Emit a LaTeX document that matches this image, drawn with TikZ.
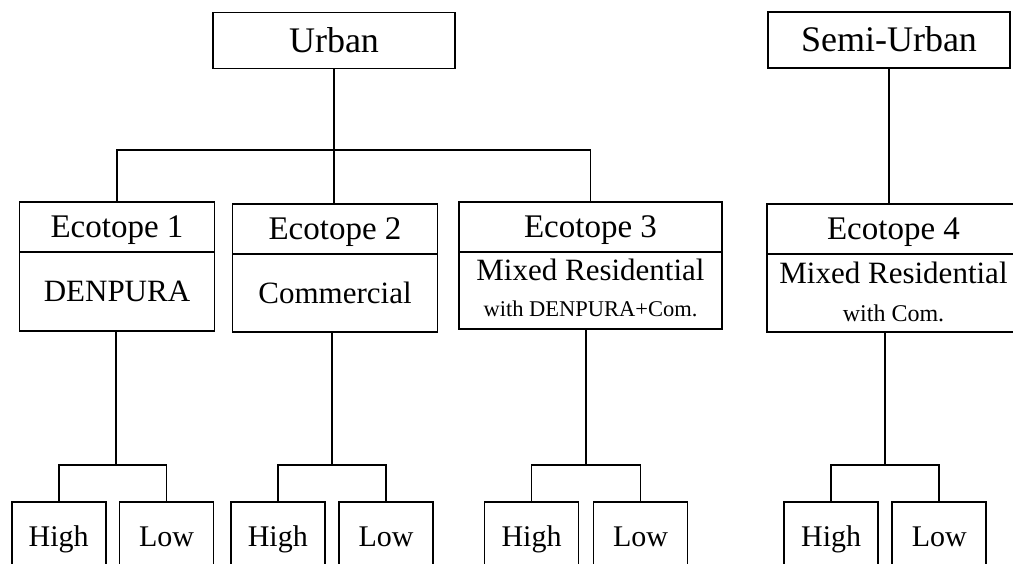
\documentclass[tikz,border=0pt]{standalone}
\usepackage{fontspec}
\setmainfont{Liberation Serif}
\usetikzlibrary{positioning}
\tikzset{box/.style = {draw, line width = 1.8pt, inner sep = 0pt, text depth = 0pt}}
\tikzset{area/.style = {box, minimum width = 242pt, minimum height = 56pt,
    font = \fontsize{36}{40}\selectfont, text height = 23pt}}
\tikzset{eco/.style = {box, minimum height = 50pt,
    font = \fontsize{33}{38}\selectfont, text height = 21.8pt}}
\tikzset{kind/.style = {box, font = \fontsize{31}{36}\selectfont, text height = 20.5pt}}
\tikzset{lvl/.style = {box, minimum width = 94pt, minimum height = 68.6pt,
    font = \fontsize{30}{35}\selectfont, text height = 19.9pt}}

\begin{document}
\begin{tikzpicture}[x = 1pt, y = -1pt, line width = 1.8pt]
      \useasboundingbox (0, 0) rectangle (1013, 563);
      \clip (0, 0) rectangle (1013, 563);
      \node [area] (urban) at (334, 40.5) {Urban};
      \node [area] (semi) at (889, 40) {Semi-Urban};
      % ecotopes
      \node [eco, minimum width = 195pt] (eco1) at (117, 227) {Ecotope 1};
      \node [kind, minimum width = 195pt, minimum height = 79pt] (desc1) at (117, 291.5) {DENPURA};
      \node [eco, minimum width = 205pt] (eco2) at (335, 229) {Ecotope 2};
      \node [kind, minimum width = 205pt, minimum height = 78pt] (desc2) at (335, 293) {Commercial};
      \node [eco, minimum width = 263pt] (eco3) at (590.5, 227) {Ecotope 3};
      \node [kind, minimum width = 263pt, minimum height = 77pt, text height = 20.5pt, text depth = 41.5pt]
        (desc3) at (590.5, 290.5)
        {\begin{tabular}[t]{@{}c@{}}Mixed Residential\\ \fontsize{22.5}{26}\selectfont with DENPURA+Com.\end{tabular}};
      \node [eco, minimum width = 253pt] (eco4) at (893.5, 229) {Ecotope 4};
      \node [kind, minimum width = 253pt, minimum height = 78pt, text height = 20.5pt, text depth = 39.9pt,
        font = \fontsize{31}{38.4}\selectfont]
        (desc4) at (893.5, 293)
        {\begin{tabular}[t]{@{}c@{}}Mixed Residential\\ \fontsize{24}{28}\selectfont with Com.\end{tabular}};
      \coordinate (bar) at (334, 150);
      \draw (urban.south) -- (bar);
      \draw (eco1.north) |- (bar) -| (eco3.north);
      \draw (bar) -- (bar |- eco2.north);
      \draw (semi.south) -- (semi.south |- eco4.north);
      % high / low
      \foreach \n/\h/\l/\j in {1/58.7/166.5/116, 2/277.8/386/332, 3/531.5/640.5/586, 4/831.2/939.3/885} {
        \node [lvl] (high\n) at (\h, 536.3) {High};
        \node [lvl] (low\n) at (\l, 536.3) {Low};
        \coordinate (j\n) at (\j, 465);
        \draw (desc\n.south -| j\n) -- (j\n);
        \draw (high\n.north) |- (j\n) -| (low\n.north);
      }
    \end{tikzpicture}
\end{document}
